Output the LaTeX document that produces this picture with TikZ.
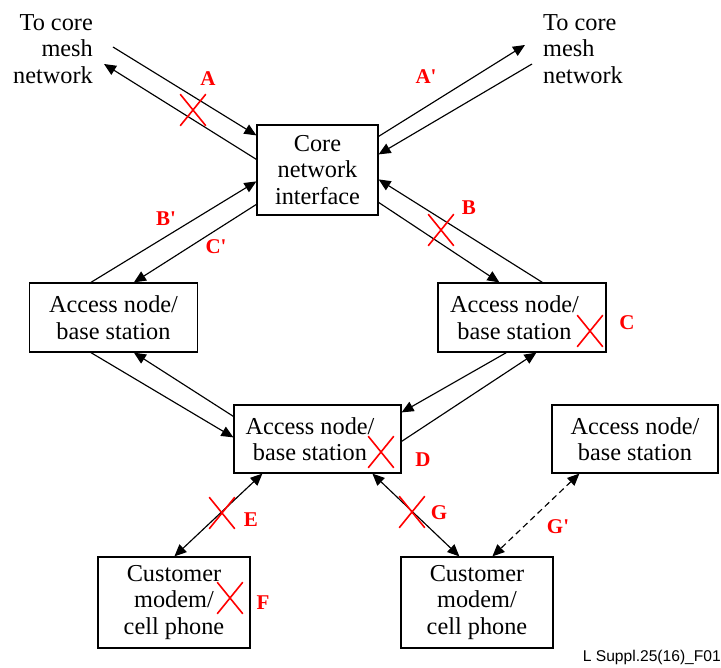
\documentclass[tikz,border=0pt]{standalone}
\usepackage{fontspec}
\setmainfont{Liberation Serif}
\setsansfont{Liberation Sans}
\usetikzlibrary{arrows.meta,calc,shapes.misc}

% two-line label set a little left of the box centre, leaving room for a mark
\newcommand\leftlines[2]{\raisebox{-3pt}[\height][\depth]{\begin{tabular}{@{}c@{}}#1\\#2\end{tabular}}\kern15pt}

\begin{document}
\begin{tikzpicture}[x=1pt,y=-1pt,
  box/.style={draw,line width=1.2pt,inner sep=0pt,align=center,
    font=\fontsize{24.3}{26.5}\selectfont},
  markedbox/.style={draw,line width=1.2pt,inner sep=0pt,
    font=\fontsize{24.3}{26.5}\selectfont},
  plain/.style={inner sep=0pt,font=\fontsize{24.3}{26.5}\selectfont},
  lbl/.style={text=red,inner sep=0pt,font=\fontsize{21}{23}\selectfont\bfseries},
  fault/.style={cross out,draw=red,line width=1.6pt,inner sep=0pt,
    minimum width=24pt,minimum height=30pt},
  conn/.style={line width=1.15pt,-{Triangle[length=12pt,width=10.5pt]}},
  both/.style={line width=1.15pt,{Triangle[length=12pt,width=10.5pt]}-{Triangle[length=12pt,width=10.5pt]}}]

\fill[white] (0,0) rectangle (721,668);
\useasboundingbox (0,0) rectangle (721,668);

% boxes
\node[box,minimum width=121pt,minimum height=90pt] (core) at (317.5,170) {Core\\network\\interface};
\node[box,minimum width=168pt,minimum height=69pt] (lft) at (113.5,317.5) {Access node/\\base station};
\node[markedbox,minimum width=168pt,minimum height=69pt] (rgt) at (522,317.5) {\leftlines{Access node/}{base station}};
\node[markedbox,minimum width=167pt,minimum height=68pt] (mid) at (317.5,439) {\leftlines{Access node/}{base station}};
\node[box,minimum width=166pt,minimum height=68pt] (far) at (635,439) {Access node/\\base station};
\node[box,minimum width=152pt,minimum height=91pt] (cl) at (174,602.5) {Customer\\modem/\\cell phone};
\node[box,minimum width=152pt,minimum height=91pt] (cr) at (477,602.5) {Customer\\modem/\\cell phone};

% outer network labels
\node[plain,align=right,anchor=east] (netL) at (93,49) {To core\\mesh\\network};
\node[plain,align=left,anchor=west] (netR) at (543,49) {To core\\mesh\\network};

% free line ends towards the core mesh
\coordinate (tL1) at (113,47);
\coordinate (tL2) at (104,64);
\coordinate (tR1) at (525,45);
\coordinate (tR2) at (532,64);

% core links to the mesh
\draw[conn] (tL1) -- ($(core.north west)+(0,11)$);
\draw[conn] ($(core.north west)+(0,35)$) -- (tL2);
\draw[conn] ($(core.north east)+(0,12)$) -- (tR1);
\draw[conn] (tR2) -- ($(core.north east)+(0,30)$);

% core to access nodes
\draw[conn] ($(lft.north west)+(62,0)$) -- ($(core.north west)+(0,57)$);
\draw[conn] ($(core.north west)+(0,80)$) -- ($(lft.north west)+(105,0)$);
\draw[conn] ($(rgt.north west)+(105,0)$) -- ($(core.north east)+(0,55)$);
\draw[conn] ($(core.north east)+(0,78)$) -- ($(rgt.north west)+(62,0)$);

% access nodes to the middle node
\draw[conn] ($(lft.south west)+(62,0)$) -- ($(mid.north west)+(0,33)$);
\draw[conn] ($(mid.north west)+(0,12)$) -- ($(lft.south west)+(105,0)$);
\draw[conn] ($(rgt.south west)+(69,0)$) -- ($(mid.north east)+(0,8)$);
\draw[conn] ($(mid.north east)+(0,37)$) -- ($(rgt.south west)+(99,0)$);

% customer links
\draw[both] ($(mid.south west)+(29,0)$) -- ($(cl.north west)+(77,0)$);
\draw[both] ($(mid.south west)+(139,0)$) -- ($(cr.north west)+(59,0)$);
\draw[both,dash pattern=on 6pt off 4pt] ($(far.south west)+(28,0)$) -- ($(cr.north west)+(92,0)$);

% fault marks
\node[fault] (xA) at (193,110) {};
\node[fault] (xB) at (441,230) {};
\node[fault] (xC) at (590,331) {};
\node[fault] (xD) at (381,452) {};
\node[fault] (xE) at (222,513) {};
\node[fault] (xF) at (230,598) {};
\node[fault] (xG) at (412,512) {};

% link labels
\node[lbl] (lA) at (208,79) {A};
\node[lbl] (lAp) at (426,77) {A\textquotesingle};
\node[lbl] (lB) at (469,208) {B};
\node[lbl] (lBp) at (166,219) {B\textquotesingle};
\node[lbl] (lC) at (627,323) {C};
\node[lbl] (lCp) at (216,247) {C\textquotesingle};
\node[lbl] (lD) at (423,460) {D};
\node[lbl] (lE) at (251,520) {E};
\node[lbl] (lF) at (263,603) {F};
\node[lbl] (lG) at (439,513) {G};
\node[lbl] (lGp) at (558,527) {G\textquotesingle};

% figure reference
\node[inner sep=0pt,anchor=east,font=\sffamily\fontsize{15.6}{17}\selectfont] (ref) at (721,657) {L Suppl.25(16)\_F01};
\end{tikzpicture}
\end{document}
